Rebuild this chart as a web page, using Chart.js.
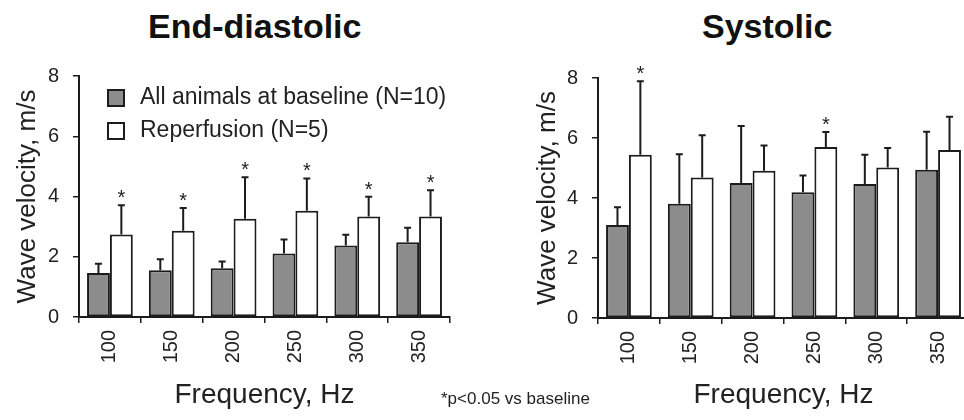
<!DOCTYPE html>
<html>
<head>
<meta charset="utf-8">
<title>Wave velocity</title>
<script src="https://cdn.jsdelivr.net/npm/chart.js"></script>
<style>
  html, body { margin: 0; padding: 0; background: #fff; width: 964px; height: 420px; overflow: hidden; }
  body { position: relative; font-family: "Liberation Sans", Arial, sans-serif; color: #222; }
  canvas { position: absolute; top: 0; }
  #leftChart { left: 0; }
  #rightChart { left: 520px; }
  .heading { position: absolute; top: 9px; font-family: "Liberation Sans Narrow", "Liberation Sans", sans-serif;
             font-weight: bold; font-size: 34px; line-height: 34px; color: #111; white-space: nowrap; }
  #note { position: absolute; left: 441px; top: 389px; font-size: 17px; line-height: 20px; white-space: nowrap; }
</style>
</head>
<body>
<div class="heading" style="left:148px">End-diastolic</div>
<div class="heading" style="left:702px">Systolic</div>
<canvas id="leftChart" width="480" height="420"></canvas>
<canvas id="rightChart" width="460" height="420"></canvas>
<div id="note">*p&lt;0.05 vs baseline</div>

<script>
var frequencies = ['100', '150', '200', '250', '300', '350'];
var yMax = 8;
var yStep = 2;

// end-diastolic
var edBaseline   = [1.46, 1.55, 1.62, 2.11, 2.37, 2.48];
var edBaselineSD = [0.31, 0.37, 0.22, 0.46, 0.36, 0.48];
var edReperf     = [2.74, 2.86, 3.26, 3.53, 3.34, 3.34];
var edReperfSD   = [0.97, 0.76, 1.38, 1.07, 0.65, 0.87];
var edSignificant = [true, true, true, true, true, true];

// systolic
var sysBaseline   = [3.10, 3.81, 4.50, 4.19, 4.47, 4.94];
var sysBaselineSD = [0.59, 1.65, 1.90, 0.56, 0.97, 1.27];
var sysReperf     = [5.44, 4.68, 4.91, 5.70, 5.02, 5.60];
var sysReperfSD   = [2.45, 1.41, 0.84, 0.50, 0.65, 1.11];
var sysSignificant = [true, false, false, true, false, false];

var fontFamily = "'Liberation Sans', Arial, sans-serif";
var ink = '#1c1c1c';
var textColor = '#222';

var errorBars = {
    id: 'errorBars',
    afterDatasetsDraw: function(chart) {
        var ctx = chart.ctx;
        var yScale = chart.scales.y;
        chart.data.datasets.forEach(function(ds, i) {
            var meta = chart.getDatasetMeta(i);
            meta.data.forEach(function(bar, j) {
                var top = yScale.getPixelForValue(ds.data[j] + ds.sd[j]);
                ctx.save();
                ctx.strokeStyle = ink;
                ctx.lineWidth = 2;
                ctx.beginPath();
                ctx.moveTo(bar.x, bar.y);
                ctx.lineTo(bar.x, top);
                ctx.moveTo(bar.x - 3.5, top);
                ctx.lineTo(bar.x + 3.5, top);
                ctx.stroke();
                if (ds.significant && ds.significant[j]) {
                    ctx.fillStyle = textColor;
                    ctx.font = '20px ' + fontFamily;
                    ctx.textAlign = 'center';
                    ctx.textBaseline = 'alphabetic';
                    ctx.fillText('*', bar.x, top - 1);
                }
                ctx.restore();
            });
        });
    }
};

var insideLegend = {
    id: 'insideLegend',
    afterDraw: function(chart) {
        var ctx = chart.ctx;
        var area = chart.chartArea;
        ctx.save();
        ctx.font = '23px ' + fontFamily;
        ctx.textBaseline = 'middle';
        chart.data.datasets.forEach(function(ds, i) {
            var y = area.top + 22 + i * 33;
            ctx.fillStyle = ds.backgroundColor;
            ctx.fillRect(area.left + 29, y - 8, 16, 16);
            ctx.strokeStyle = ink;
            ctx.lineWidth = 2;
            ctx.strokeRect(area.left + 29, y - 8, 16, 16);
            ctx.fillStyle = textColor;
            ctx.fillText(ds.label, area.left + 61, y);
        });
        ctx.restore();
    }
};

function makeChart(id, base, baseSD, rep, repSD, sig, yWidth, padTop, padRight, xHeight, plugins) {
    var ctx = document.getElementById(id).getContext('2d');
    return new Chart(ctx, {
        type: 'bar',
        data: {
            labels: frequencies,
            datasets: [{
                label: 'All animals at baseline (N=10)',
                data: base,
                sd: baseSD,
                backgroundColor: '#8c8c8c',
                borderColor: ink,
                borderWidth: 2,
                borderSkipped: false
            }, {
                label: 'Reperfusion (N=5)',
                data: rep,
                sd: repSD,
                significant: sig,
                backgroundColor: '#ffffff',
                borderColor: ink,
                borderWidth: 2,
                borderSkipped: false
            }]
        },
        options: {
            responsive: false,
            animation: false,
            categoryPercentage: 0.74,
            barPercentage: 1.0,
            layout: { padding: { top: padTop, right: padRight, left: 0, bottom: 0 } },
            plugins: {
                legend: { display: false },
                tooltip: { enabled: false }
            },
            scales: {
                x: {
                    grid: { display: true, drawOnChartArea: false, drawTicks: true, tickLength: 6,
                            color: ink, lineWidth: 1.5, offset: true },
                    border: { display: true, color: ink, width: 2 },
                    ticks: { font: { size: 20, family: fontFamily }, color: textColor,
                             minRotation: 90, maxRotation: 90, padding: 7, autoSkip: false },
                    title: { display: true, text: 'Frequency, Hz', color: textColor,
                             font: { size: 28, family: fontFamily }, padding: { top: 0, bottom: 8 } },
                    afterFit: function(s) { s.height = xHeight; }
                },
                y: {
                    min: 0,
                    max: yMax,
                    ticks: { stepSize: yStep, font: { size: 20, family: fontFamily }, color: textColor, padding: 14 },
                    grid: { drawOnChartArea: false, drawTicks: true, tickLength: 6, color: ink, lineWidth: 1.5 },
                    border: { display: true, color: ink, width: 2 },
                    title: { display: true, text: 'Wave velocity, m/s', color: textColor,
                             font: { size: 26, family: fontFamily }, padding: { top: 12, bottom: 0 } },
                    afterFit: function(s) { s.width = yWidth; }
                }
            }
        },
        plugins: plugins
    });
}

makeChart('leftChart', edBaseline, edBaselineSD, edReperf, edReperfSD, edSignificant,
          79, 76, 30, 103, [errorBars, insideLegend]);
makeChart('rightChart', sysBaseline, sysBaselineSD, sysReperf, sysReperfSD, sysSignificant,
          78, 78, 11, 102, [errorBars]);
</script>
</body>
</html>
